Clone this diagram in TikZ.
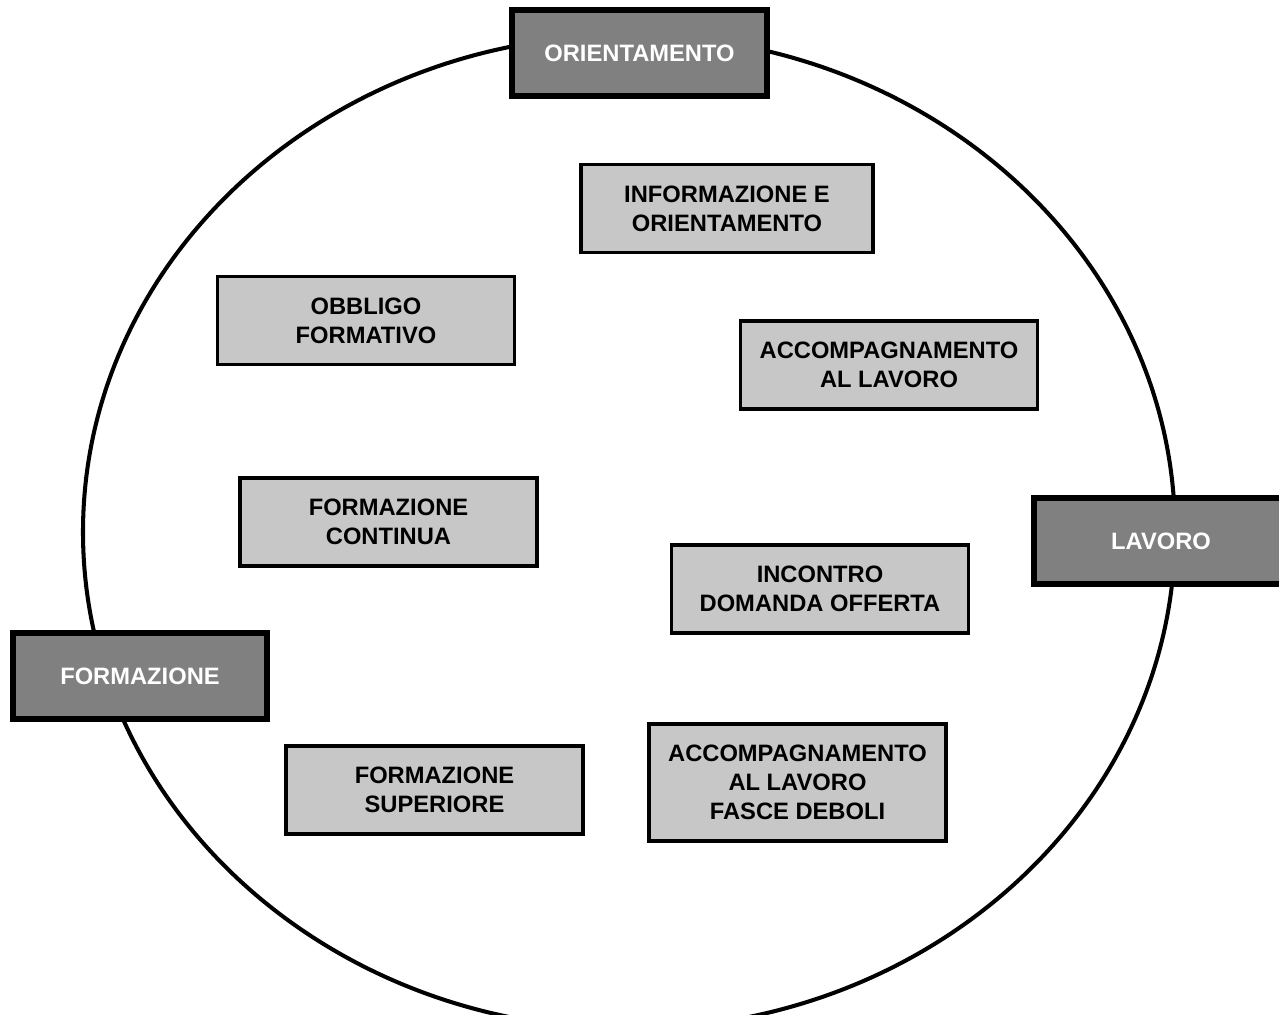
\documentclass[tikz,border=0pt]{standalone}
\usepackage{fontspec}
\setmainfont{Liberation Sans}

\definecolor{chiaro}{gray}{0.78}
\definecolor{scuro}{gray}{0.50}

\tikzset{
    zona/.style = {draw, line width = 3.4pt, fill = scuro, text = white,
        font = \bfseries\fontsize{13.5}{16.5}\selectfont,
        minimum width = 5.1cm, minimum height = 1.72cm, inner sep = 0pt},
    servizio/.style = {draw, line width = 2.2pt, fill = chiaro, align = center,
        font = \bfseries\fontsize{13.5}{16.5}\selectfont,
        minimum width = 5.94cm, minimum height = 1.76cm, inner sep = 0pt}
}

\begin{document}
\begin{tikzpicture}[x = 0.02cm, y = -0.02cm]
        \useasboundingbox (0, 0) rectangle (1279, 1015); % Рамка

        \draw [line width = 2.3pt] (629, 532) ellipse [x radius = 546, y radius = 497]; % Эллипс

        % Тёмные блоки на эллипсе
        \node [zona] (orientamento) at (639.5, 53) {ORIENTAMENTO};
        \node [zona] (lavoro) at (1161, 541) {LAVORO};
        \node [zona] (formazione) at (140, 676) {FORMAZIONE};

        % Светлые блоки внутри
        \node [servizio, minimum width = 5.84cm] (info) at (727, 208.5) {INFORMAZIONE E\\ORIENTAMENTO};
        \node [servizio] (obbligo) at (366, 320.5) {OBBLIGO\\FORMATIVO};
        \node [servizio] (accomp) at (889, 365) {ACCOMPAGNAMENTO\\AL LAVORO};
        \node [servizio] (continua) at (388.5, 522) {FORMAZIONE\\CONTINUA};
        \node [servizio] (incontro) at (820, 589) {INCONTRO\\DOMANDA OFFERTA};
        \node [servizio] (superiore) at (434.5, 790) {FORMAZIONE\\SUPERIORE};
        \node [servizio, minimum height = 2.34cm] (deboli) at (797.5, 782.5) {ACCOMPAGNAMENTO\\AL LAVORO\\FASCE DEBOLI};
    \end{tikzpicture}
\end{document}
